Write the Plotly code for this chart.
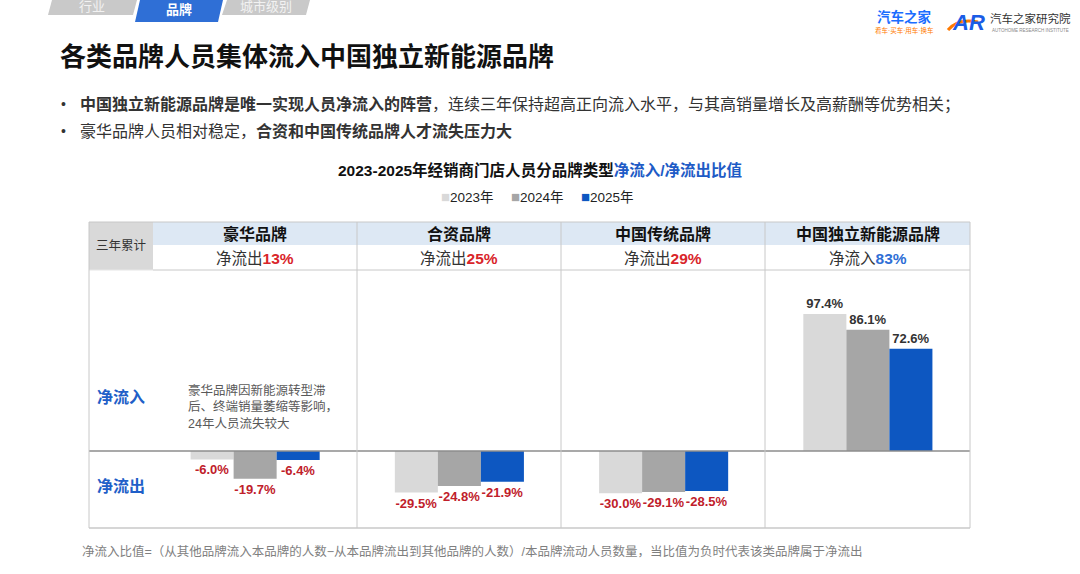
import plotly.graph_objects as go

W, H = 1080, 574

# data
categories = ["豪华品牌", "合资品牌", "中国传统品牌", "中国独立新能源品牌"]
years = ["2023年", "2024年", "2025年"]
v2023 = [-6.0, -29.5, -30.0, 97.4]
v2024 = [-19.7, -24.8, -29.1, 86.1]
v2025 = [-6.4, -21.9, -28.5, 72.6]
cum_dir = ["净流出", "净流出", "净流出", "净流入"]
cum_vals = [13, 25, 29, 83]

colors = ["#d9d9d9", "#a6a6a6", "#0d57c1"]
FONT = "Liberation Sans, Arial, Noto Sans CJK SC"


# pixel -> paper helpers
def X(px):
    return px / W


def Y(py):
    return 1 - py / H


shapes = []
annots = []


def rect(x0, y0, x1, y1, fill, lc=None, layer="below"):
    shapes.append(dict(type="rect", xref="paper", yref="paper",
                       x0=X(x0), x1=X(x1), y0=Y(y1), y1=Y(y0),
                       fillcolor=fill, line=dict(width=1 if lc else 0, color=lc or fill),
                       layer=layer))


def hline(x0, x1, y, color="#c8c8c8", w=1):
    shapes.append(dict(type="line", xref="paper", yref="paper",
                       x0=X(x0), x1=X(x1), y0=Y(y), y1=Y(y),
                       line=dict(color=color, width=w)))


def vline(x, y0, y1, color="#c8c8c8", w=1):
    shapes.append(dict(type="line", xref="paper", yref="paper",
                       x0=X(x), x1=X(x), y0=Y(y0), y1=Y(y1),
                       line=dict(color=color, width=w)))


def poly(pts, fill):
    d = "M" + " L".join(f"{X(a):.5f},{Y(b):.5f}" for a, b in pts) + " Z"
    shapes.append(dict(type="path", xref="paper", yref="paper", path=d,
                       fillcolor=fill, line=dict(width=0), layer="below"))


def note(x, y, text, size, color="#222", xanchor="center", family=FONT, align="left"):
    annots.append(dict(x=X(x), y=Y(y), xref="paper", yref="paper", text=text,
                       showarrow=False, xanchor=xanchor, yanchor="middle", align=align,
                       font=dict(size=size, color=color, family=family)))


# tabs on top
poly([(52, 0), (137, 0), (133, 15), (48, 15)], "#c9c9c9")
poly([(140, 0), (223, 0), (218, 22), (135, 22)], "#2f6fd6")
poly([(227, 0), (310, 0), (306, 15), (222, 15)], "#c9c9c9")
note(92, 6, "行业", 13, "#f2f2f2")
note(179, 10, "<b>品牌</b>", 13, "#ffffff")
note(266, 6, "城市级别", 13, "#f2f2f2")

# logos
note(905, 17, "<b>汽车之家</b>", 13.5, "#1a6dff")
note(905, 30, "看车·买车·用车·换车", 6.5, "#ff7a00")
note(968, 22, "<b><i>AR</i></b>", 22, "#1a5ce6")
shapes.append(dict(type="path", xref="paper", yref="paper",
                   path=f"M{X(948):.5f},{Y(30):.5f} Q{X(958):.5f},{Y(18):.5f} {X(978):.5f},{Y(22):.5f}",
                   line=dict(color="#ff7a00", width=3)))
note(1030, 19, "汽车之家研究院", 11.5, "#333")
note(1030, 30, "AUTOHOME RESEARCH INSTITUTE", 4.5, "#888")

# title and bullets
note(58, 57, "<b>各类品牌人员集体流入中国独立新能源品牌</b>", 26, "#111", "left")
note(63, 104, "•", 14, "#333")
note(78, 104, "<b>中国独立新能源品牌是唯一实现人员净流入的阵营</b>，连续三年保持超高正向流入水平，与其高销量增长及高薪酬等优势相关；",
     16, "#333", "left")
note(63, 131, "•", 14, "#333")
note(78, 131, "豪华品牌人员相对稳定，<b>合资和中国传统品牌人才流失压力大</b>", 16, "#333", "left")

# chart subtitle
note(540, 170, "<b>2023-2025年经销商门店人员分品牌类型<span style='color:#1e5bc6'>净流入/净流出比值</span></b>",
     15.5, "#111")

# legend, drawn as text so the swatches sit close to the labels
for name, c, lx in zip(years, colors, [439, 509, 579]):
    note(lx, 196, f"<span style='color:{c};font-size:15px'>■</span>{name}", 13.5, "#222", "left")

# table frame
left, right = 89, 970
top, hdr_mid, hdr_bot, zero_y, bottom = 222, 245, 270, 451, 528
col_edges = [153, 357, 561, 765, 970]

rect(left, top, col_edges[0], hdr_bot, "#d9d9d9")
rect(col_edges[0], top, right, hdr_mid, "#dde8f4")
note((left + col_edges[0]) / 2, 246, "三年累计", 12.5, "#333")

hline(left, right, top)
hline(col_edges[0], right, hdr_bot)
hline(left, col_edges[0], hdr_bot, "#e6e6e6")
hline(left, right, bottom, "#c8c8c8", 1.5)
hline(left, right, zero_y, "#8c8c8c", 1.3)
vline(left, top, bottom)
vline(right, top, bottom)
for xe in col_edges[1:-1]:
    vline(xe, top, bottom)

for i, cat in enumerate(categories):
    cx = (col_edges[i] + col_edges[i + 1]) / 2
    note(cx, 234, f"<b>{cat}</b>", 16, "#111")
    vc = "#2f6fd6" if cum_dir[i] == "净流入" else "#d9252a"
    note(cx, 258, f"{cum_dir[i]}<b><span style='color:{vc}'>{cum_vals[i]}%</span></b>", 15.5, "#333")

note((left + col_edges[0]) / 2, 397, "<b>净流入</b>", 16, "#1f5fc8")
note((left + col_edges[0]) / 2, 486, "<b>净流出</b>", 16, "#1f5fc8")

note(186, 407, "豪华品牌因新能源转型滞<br>后、终端销量萎缩等影响，<br>24年人员流失较大", 12.5, "#595959", "left")

# footer
note(80, 551, "净流入比值=（从其他品牌流入本品牌的人数−从本品牌流出到其他品牌的人数）/本品牌流动人员数量，当比值为负时代表该类品牌属于净流出",
     12.5, "#7f7f7f", "left")

# bars
fig = go.Figure()
for name, vals, c in zip(years, [v2023, v2024, v2025], colors):
    fig.add_trace(go.Bar(
        x=categories, y=vals, name=name, marker=dict(color=c, line=dict(width=0)),
        text=[f"<b>{v:.1f}%</b>" for v in vals], textposition="outside",
        textfont=dict(size=13, family=FONT, color=["#c0202a" if v < 0 else "#333" for v in vals]),
        cliponaxis=False, constraintext="none", showlegend=False,
    ))

px_per = (zero_y - hdr_bot) / 128.6
ymax = (zero_y - hdr_bot) / px_per
ymin = -(bottom - zero_y) / px_per

fig.update_layout(
    width=W, height=H, margin=dict(l=0, r=0, t=0, b=0),
    paper_bgcolor="white", plot_bgcolor="rgba(0,0,0,0)",
    barmode="group", bargap=0.368, bargroupgap=0,
    font=dict(family=FONT),
    xaxis=dict(domain=[X(col_edges[0]), X(right)], range=[-0.5, 3.5], visible=False),
    yaxis=dict(domain=[Y(bottom), Y(hdr_bot)], range=[ymin, ymax], visible=False),
    shapes=shapes, annotations=annots,
)

# page has a default body margin; drop it so the figure sits at the window corner
fig.write_html("out.html", config={"displayModeBar": False},
               post_script="document.body.style.margin='0';")
